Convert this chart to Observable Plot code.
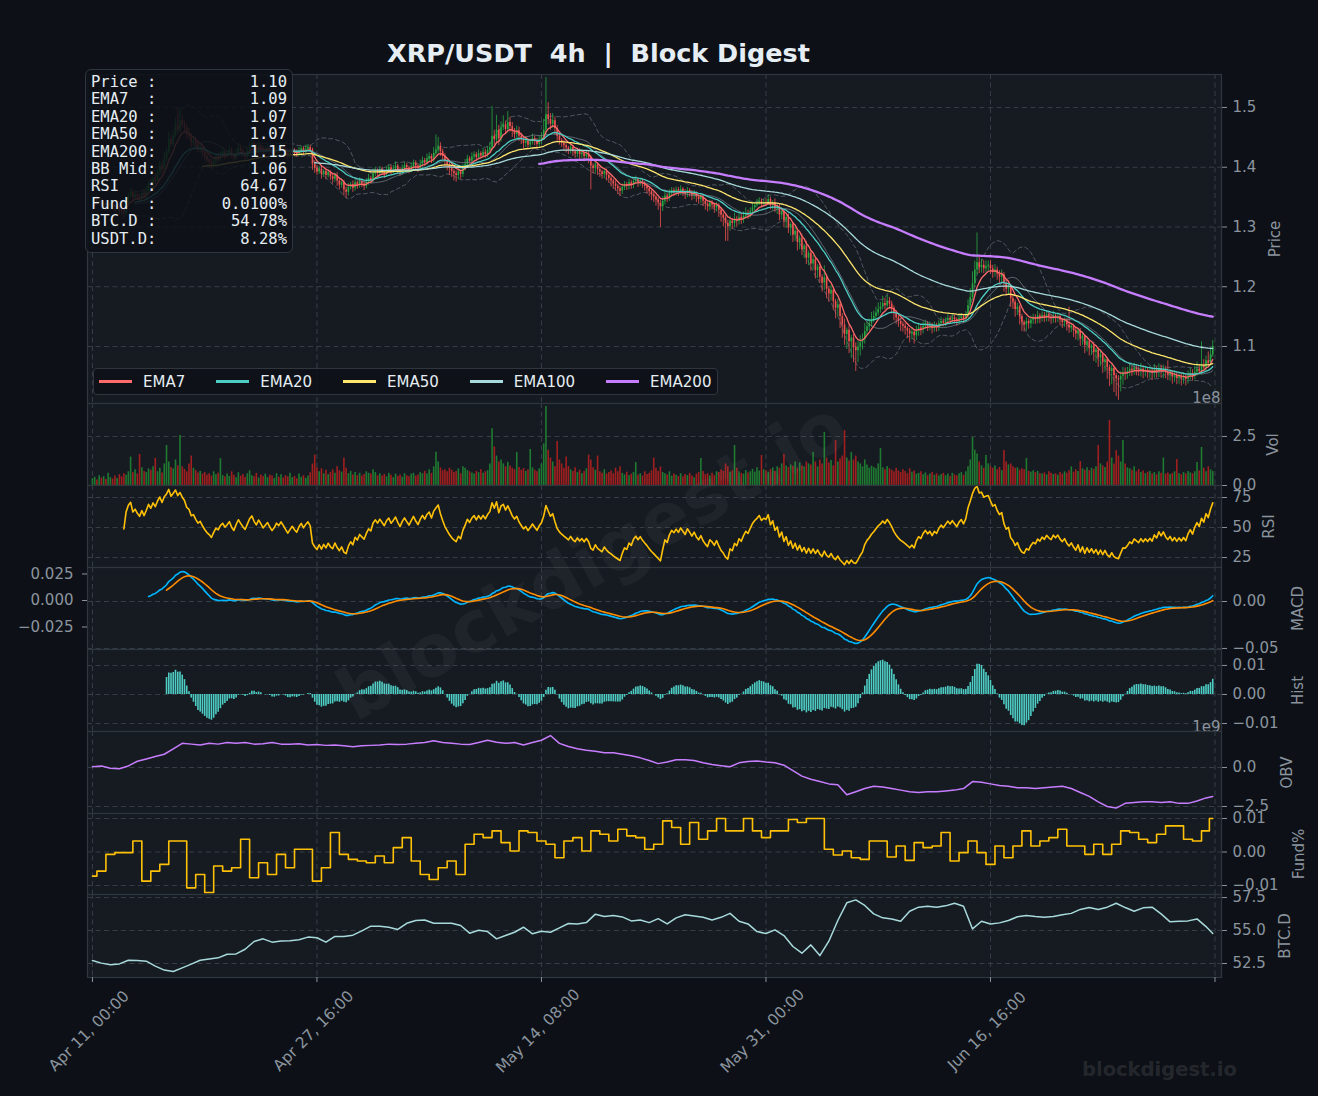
<!DOCTYPE html>
<html><head><meta charset="utf-8">
<script src="https://cdn.jsdelivr.net/npm/d3@7"></script>
<script src="https://cdn.jsdelivr.net/npm/@observablehq/plot@0.6"></script>
<style>
body{margin:0;background:#0d1117;}
#root{position:relative;width:1318px;height:1096px;background:#0d1117;overflow:hidden;font-family:"DejaVu Sans",sans-serif;}
#root svg{overflow:visible;}
.info{position:absolute;left:85px;top:69px;width:208px;height:184px;box-sizing:border-box;border:1.5px solid #30363d;border-radius:6px;background:rgba(13,17,23,0.86);padding:4px 5px 0 5px;font-family:"DejaVu Sans Mono",monospace;font-size:15.5px;line-height:17.4px;color:#e6edf3;}
.info .row{display:flex;justify-content:space-between;white-space:pre;}
.legend{position:absolute;left:93px;top:368px;width:625px;height:27px;box-sizing:border-box;border:1px solid #30363d;border-radius:4px;background:rgba(13,17,23,0.86);display:flex;align-items:center;padding-left:5px;font-size:15px;color:#e6edf3;}
.legend .sw{flex:0 0 33px;width:33px;height:3px;margin-right:11px;}
.legend .lb{flex:0 0 auto;margin-right:31px;white-space:pre;}
.legend .lb:last-child{margin-right:0;}
.title{position:absolute;left:0;top:38px;width:1197px;text-align:center;font-weight:bold;font-size:25.5px;line-height:30px;color:#e6edf3;white-space:pre;}
.wm{position:absolute;left:592px;top:560px;transform:translate(-50%,-50%) rotate(-29.5deg);font-weight:bold;font-size:72px;color:rgba(255,255,255,0.04);white-space:nowrap;pointer-events:none;}
.wm2{position:absolute;left:1082px;top:1058px;font-weight:bold;font-size:19.5px;color:rgba(255,255,255,0.11);white-space:nowrap;}
</style></head><body><div id="root"></div>
<script>
// ---------- data (4h candles, index 0 = Apr 11 00:00) ----------
const xTickIdx = [0, 100, 200, 300, 400, 500];
const xTickLabels = ["Apr 11, 00:00", "Apr 27, 16:00", "May 14, 08:00", "May 31, 00:00", "Jun 16, 16:00", ""];
const openFirst = 1342; // thousandths
const closes = [
1345,1348,1341,1343,1336,1339,1332,1335,1340,1334,1330,1333,1327,1324,1322,1341,1352,1358,1349,1354,
1350,1347,1356,1351,1360,1372,1368,1380,1376,1390,1402,1396,1414,1425,1447,1438,1452,1470,1462,1478,
1471,1466,1455,1452,1441,1444,1436,1429,1433,1425,1418,1412,1408,1402,1410,1417,1414,1421,1425,1419,
1423,1428,1420,1415,1424,1432,1427,1422,1418,1426,1435,1440,1433,1428,1436,1431,1425,1429,1433,1427,
1422,1426,1432,1429,1434,1430,1425,1420,1424,1428,1424,1421,1427,1431,1426,1430,1433,1429,1405,1398,
1392,1397,1388,1393,1386,1391,1384,1380,1386,1377,1370,1374,1362,1358,1366,1371,1365,1374,1369,1376,
1372,1368,1375,1381,1378,1389,1394,1390,1396,1392,1388,1395,1399,1393,1397,1402,1396,1391,1398,1403,
1399,1395,1401,1407,1402,1398,1405,1411,1407,1414,1418,1412,1423,1429,1435,1426,1418,1410,1404,1398,
1393,1389,1386,1392,1388,1398,1405,1414,1410,1417,1421,1416,1423,1419,1425,1421,1428,1433,1452,1446,
1462,1448,1466,1471,1463,1475,1468,1460,1455,1461,1452,1446,1440,1444,1437,1442,1448,1443,1438,1445,
1450,1462,1488,1480,1472,1478,1465,1452,1445,1440,1436,1432,1428,1433,1426,1422,1427,1421,1424,1418,
1422,1416,1402,1398,1404,1396,1392,1388,1393,1386,1381,1377,1372,1368,1364,1360,1366,1371,1368,1374,
1370,1376,1379,1374,1377,1372,1368,1364,1359,1354,1350,1345,1340,1334,1343,1352,1348,1356,1361,1358,
1362,1358,1363,1359,1355,1361,1357,1352,1356,1350,1346,1350,1343,1338,1334,1340,1337,1332,1336,1328,
1320,1315,1306,1301,1310,1306,1313,1309,1316,1312,1318,1323,1320,1326,1332,1336,1339,1343,1338,1341,
1340,1346,1336,1341,1330,1334,1320,1326,1310,1316,1298,1304,1286,1293,1274,1281,1262,1268,1248,1256,
1238,1245,1227,1233,1216,1206,1215,1196,1188,1194,1175,1164,1170,1150,1136,1120,1127,1108,1114,1098,
1093,1099,1106,1112,1125,1133,1138,1145,1150,1156,1162,1166,1172,1168,1176,1171,1164,1155,1148,1142,
1137,1134,1130,1126,1121,1124,1118,1126,1131,1128,1134,1138,1133,1136,1130,1135,1132,1138,1142,1139,
1143,1147,1144,1148,1145,1142,1147,1150,1146,1152,1168,1182,1205,1228,1240,1232,1236,1230,1234,1236,
1230,1224,1228,1221,1216,1220,1205,1196,1199,1180,1174,1162,1166,1150,1140,1136,1142,1138,1144,1148,
1145,1151,1147,1152,1148,1153,1149,1146,1151,1147,1150,1144,1140,1143,1136,1131,1134,1127,1121,1126,
1112,1117,1102,1108,1097,1101,1090,1094,1081,1086,1073,1078,1065,1058,1063,1051,1046,1044,1050,1056,
1055,1058,1062,1059,1064,1061,1058,1062,1057,1060,1056,1059,1055,1061,1057,1063,1058,1062,1056,1052,
1055,1049,1052,1047,1050,1046,1049,1045,1051,1055,1050,1057,1062,1058,1068,1064,1076,1072,1086,1100];
const upperWick = [
4,3,5,2,4,3,6,2,5,3,2,4,3,5,6,8,5,7,4,6,
3,5,4,6,7,5,8,4,9,6,8,5,10,7,12,6,9,12,30,20,
8,6,5,9,4,7,5,6,3,5,4,6,3,5,7,4,6,5,8,3,
5,7,4,3,6,8,5,4,3,7,6,9,4,5,7,3,4,6,5,3,
4,6,5,3,7,4,3,5,6,4,3,5,6,4,3,7,5,4,3,6,
5,4,6,3,5,4,3,6,4,5,3,6,4,5,7,4,6,5,3,6,
4,5,6,7,4,8,6,3,5,4,3,6,5,4,6,7,3,4,6,5,
4,3,6,5,4,3,7,6,4,8,6,4,10,25,15,6,4,5,3,4,
3,4,5,6,3,7,8,6,4,7,5,4,6,3,7,5,6,8,50,10,
25,8,10,15,6,18,9,7,5,8,6,5,4,7,3,5,8,4,5,7,
8,18,62,20,10,12,6,5,4,3,5,4,3,6,4,3,5,4,6,3,
5,4,3,4,6,3,4,3,5,4,3,4,3,5,3,4,6,5,4,6,
4,5,6,3,4,3,4,3,4,3,4,3,4,5,8,7,4,6,5,4,
5,4,6,3,4,5,3,4,5,3,4,5,3,4,3,5,4,3,5,3,
4,3,4,5,8,4,10,5,8,6,7,9,5,6,8,5,7,6,4,5,
6,8,4,3,6,3,4,6,3,4,6,3,4,7,3,4,7,3,8,4,
5,7,3,4,8,4,20,5,4,8,5,4,9,4,5,10,4,8,5,6,
8,10,12,9,14,10,8,12,9,10,11,8,12,9,10,6,5,4,5,4,
5,4,5,3,4,7,4,8,6,5,7,6,4,5,3,6,4,5,7,4,
5,6,4,5,4,3,6,5,4,7,10,15,20,15,50,12,10,8,9,7,
8,6,9,5,6,8,4,5,7,4,5,4,6,3,4,3,6,4,7,6,
5,8,4,6,5,7,4,5,8,4,6,4,3,5,4,30,5,3,4,3,
4,6,3,5,4,3,6,3,4,6,3,4,3,4,6,3,4,5,8,9,
8,7,9,5,8,6,5,10,6,7,5,8,6,9,5,8,6,7,5,20,
6,4,7,5,6,4,7,5,8,9,6,10,12,8,40,10,8,15,12,10];
const lowerWick = [
3,4,5,3,6,4,5,3,4,6,5,3,6,5,8,4,5,3,6,4,
5,4,3,6,4,5,3,6,4,5,3,6,4,5,3,5,4,3,6,4,
5,6,8,5,9,6,7,5,6,8,7,5,9,6,4,5,6,4,5,7,
4,5,6,7,4,5,6,5,7,4,5,3,6,5,4,6,7,4,5,6,
5,4,3,6,4,5,6,7,4,5,6,4,3,5,6,4,3,5,10,8,
6,4,8,5,7,4,6,8,5,9,8,5,10,10,6,4,7,5,6,4,
6,7,4,5,6,4,5,7,4,6,7,4,5,6,4,5,7,6,4,5,
5,6,4,5,6,7,4,5,6,4,5,6,4,5,6,8,7,9,10,12,
10,12,11,7,8,5,4,6,5,4,5,6,4,5,4,6,5,4,6,10,
8,12,6,5,8,6,9,10,8,7,9,8,10,7,8,6,5,7,8,6,
7,5,8,9,10,7,12,10,8,7,9,8,7,6,8,7,6,8,7,9,
8,10,40,9,8,10,9,8,7,9,8,10,9,8,10,9,6,5,7,6,
7,6,5,8,6,7,8,9,8,10,9,10,12,35,8,6,7,5,6,7,
6,7,5,8,9,6,7,8,6,9,8,7,9,10,9,7,8,9,7,12,
12,15,30,25,8,10,7,9,6,8,6,5,7,5,4,5,4,3,6,5,
5,4,7,8,6,9,10,8,11,12,9,13,12,10,14,12,10,15,11,13,
12,10,14,13,10,15,12,16,14,12,15,18,14,20,22,18,25,20,28,25,
35,20,15,12,8,6,7,6,5,6,5,6,5,7,5,8,10,12,11,10,
12,10,11,13,15,10,14,8,9,10,7,6,8,7,9,6,8,7,5,6,
6,5,7,6,7,8,6,5,7,6,5,6,5,6,8,10,9,8,7,8,
9,10,8,10,12,9,14,12,10,15,12,13,10,14,15,12,10,9,8,7,
8,7,9,6,8,7,8,9,7,8,7,9,10,8,10,9,8,12,10,12,
12,10,14,11,13,12,15,18,16,15,18,16,20,25,22,28,30,34,20,15,
12,10,8,9,7,10,8,9,11,8,10,9,12,8,10,9,11,12,10,9,
10,12,9,11,10,12,9,11,8,7,8,6,7,5,6,5,6,4,5,4];
const volumeM = [ // millions
35,42,28,50,38,45,30,62,40,33,48,36,55,44,60,52,70,145,65,80,
58,158,90,72,66,85,78,95,138,70,88,64,110,204,120,92,85,130,100,255,
95,82,70,110,150,88,76,64,72,58,66,52,60,48,70,55,62,137,50,44,
58,46,70,52,40,65,48,56,42,60,75,50,44,62,38,54,46,58,40,52,
48,36,60,42,55,38,50,44,62,40,46,35,58,42,50,36,48,65,110,155,
90,70,85,60,78,55,66,80,62,95,75,68,140,88,60,72,54,66,50,62,
48,56,70,62,58,80,66,50,60,48,56,44,62,52,40,58,46,54,42,60,
50,44,58,62,48,54,66,60,72,58,80,62,95,170,120,90,75,80,70,88,
78,66,72,85,60,95,88,76,70,64,58,72,66,80,62,70,76,110,289,196,
150,120,130,110,95,118,100,88,80,168,92,78,86,72,80,184,90,78,70,85,
110,212,403,180,140,120,95,224,130,110,88,145,96,80,72,90,66,78,60,72,
85,155,130,90,78,150,70,62,80,58,66,74,60,88,70,95,62,54,68,50,
58,66,117,52,60,48,70,56,62,75,140,88,72,95,66,60,54,70,48,58,
52,46,60,44,56,50,62,48,40,58,66,138,72,55,60,48,62,50,70,66,
80,72,110,95,68,75,204,88,70,62,58,76,64,70,82,68,90,74,153,80,
75,68,82,90,72,95,88,110,158,100,92,105,98,120,88,115,100,94,120,110,
105,168,120,95,130,110,270,140,115,128,100,230,120,135,150,280,140,125,168,130,
150,120,110,95,130,105,88,98,92,85,110,188,90,80,96,85,78,70,88,74,
66,80,72,60,85,68,74,58,62,70,55,64,50,58,66,52,60,48,56,62,
50,58,46,62,54,48,60,66,52,70,95,130,245,180,160,120,100,88,153,110,
95,88,100,80,92,76,178,120,105,110,96,88,90,78,85,80,138,72,68,75,
66,72,60,58,64,54,70,62,56,60,52,66,58,70,62,75,95,68,80,72,
122,85,78,90,76,88,82,95,204,110,100,92,120,332,140,110,178,150,120,230,
110,90,85,78,95,70,82,66,74,60,68,72,58,66,54,70,62,140,58,64,
56,62,70,133,60,55,66,58,72,64,60,70,117,75,194,88,70,95,80,72];
// sampled every 4 candles (last sample = final candle)
const obvB = [ // billions
0.05,0.1,-0.05,-0.08,0.1,0.4,0.55,0.7,0.85,1.2,
1.55,1.5,1.45,1.55,1.5,1.6,1.55,1.6,1.5,1.52,
1.6,1.5,1.5,1.52,1.45,1.48,1.42,1.45,1.4,1.33,
1.4,1.42,1.45,1.5,1.47,1.5,1.55,1.6,1.72,1.6,
1.55,1.5,1.48,1.6,1.75,1.62,1.55,1.6,1.45,1.6,
1.75,2.05,1.55,1.35,1.2,1.1,1.05,0.95,0.95,0.85,
0.75,0.62,0.45,0.25,0.35,0.5,0.5,0.45,0.3,0.2,
0.12,0.05,0.3,0.38,0.42,0.35,0.3,0.15,-0.2,-0.55,
-0.75,-0.9,-1.05,-1.1,-1.75,-1.55,-1.35,-1.2,-1.25,-1.35,
-1.45,-1.55,-1.6,-1.55,-1.55,-1.5,-1.45,-1.35,-0.9,-0.95,
-1.05,-1.15,-1.2,-1.3,-1.3,-1.35,-1.3,-1.25,-1.2,-1.35,
-1.6,-1.85,-2.2,-2.5,-2.6,-2.3,-2.25,-2.2,-2.2,-2.25,
-2.2,-2.3,-2.3,-2.15,-1.95,-1.86];
const fundingBp = [ // units of 0.0001 %
-72,-57,-7,-2,-2,33,-87,-57,-37,33,
33,-107,-67,-121,-42,-57,-47,38,-77,-32,
-67,-7,-47,8,8,-87,-47,58,-7,-22,
-27,-32,-12,-32,13,43,-27,-67,-82,-47,
-27,-67,23,53,43,63,28,3,63,58,
33,23,-17,33,43,3,63,53,33,68,
48,43,8,23,93,73,23,88,38,63,
100,63,63,100,63,43,63,63,97,88,
100,100,8,-9,3,-17,-22,33,33,-15,
18,-25,28,13,18,58,-27,-2,33,-2,
-37,18,-17,18,63,18,33,43,68,18,
18,-7,23,-7,23,63,58,38,28,53,
78,78,38,33,63,100];
const btcDom = [
52.73,52.53,52.4,52.47,52.75,52.73,52.68,52.3,52.0,51.9,
52.17,52.45,52.75,52.85,52.93,53.2,53.23,53.58,54.17,54.37,
54.12,54.2,54.22,54.3,54.5,54.45,54.12,54.55,54.55,54.65,
54.97,55.33,55.33,55.25,55.08,55.55,55.76,55.8,55.55,55.55,
55.55,55.38,54.8,55.02,54.92,54.37,54.62,54.87,55.25,54.75,
54.95,54.87,55.2,55.53,55.5,55.6,56.24,56.06,56.14,56.03,
55.73,55.8,55.6,55.9,55.5,55.96,56.2,56.1,56.0,55.8,
56.0,56.3,55.7,55.5,54.92,54.77,55.05,54.62,53.79,53.28,
53.91,53.1,54.19,55.76,57.1,57.32,56.9,56.26,55.96,55.88,
55.7,56.46,56.77,56.84,56.77,56.87,57.07,56.84,55.12,55.7,
55.5,55.58,55.76,56.04,56.14,56.06,56.0,56.06,56.2,56.3,
56.6,56.74,56.6,56.77,57.07,56.74,56.46,56.72,56.77,56.26,
55.66,55.7,55.73,55.88,55.3,54.78];
const infoLabels = ["Price :", "EMA7  :", "EMA20 :", "EMA50 :", "EMA200:", "BB Mid:", "RSI   :", "Fund  :", "BTC.D :", "USDT.D:"];
const infoValues = ["1.10", "1.09", "1.07", "1.07", "1.15", "1.06", "64.67", "0.0100%", "54.78%", "8.28%"];
const emaNames = ["EMA7", "EMA20", "EMA50", "EMA100", "EMA200"];
const emaSpans = [7, 20, 50, 100, 200];
const emaColors = ["#ff6b6b", "#4ecdc4", "#ffe66d", "#a8dadc", "#c77dff"];

// ---------- derived ----------
const N = closes.length;
const C = closes.map(v => v / 1000);
const O = C.map((v, i) => i === 0 ? openFirst / 1000 : C[i - 1]);
const candles = C.map((c, i) => {
  const o = O[i];
  return {i, o, c, h: Math.max(o, c) + upperWick[i] / 1000, l: Math.min(o, c) - lowerWick[i] / 1000, up: c >= o, v: volumeM[i]};
});
function ema(arr, n) { const a = 2 / (n + 1); let e; return arr.map((v, i) => (e = i === 0 ? v : a * v + (1 - a) * e)); }
const emaSeries = emaSpans.map(n => ema(C, n).map((v, i) => ({i, v})).filter(d => d.i >= n - 1));
const bb = [];
for (let i = 19; i < N; i++) {
  const w = C.slice(i - 19, i + 1); const m = d3.mean(w); const s = d3.deviation(w);
  bb.push({i, m, u: m + 2 * s, l: m - 2 * s});
}
const rsi = []; let ag = 0, al = 0;
for (let i = 1; i < N; i++) {
  const d = C[i] - C[i - 1]; const g = Math.max(d, 0), l = Math.max(-d, 0);
  if (i === 1) { ag = g; al = l; } else { ag = (ag * 13 + g) / 14; al = (al * 13 + l) / 14; }
  if (i >= 14) rsi.push({i, v: al === 0 ? 100 : 100 - 100 / (1 + ag / al)});
}
const e12 = ema(C, 12), e26 = ema(C, 26);
const macdAll = C.map((_, i) => e12[i] - e26[i]);
const macd = macdAll.map((v, i) => ({i, v})).filter(d => d.i >= 25);
const sigVals = ema(macd.map(d => d.v), 9);
const signal = macd.map((d, k) => ({i: d.i, v: sigVals[k], m: d.v})).filter(d => d.i >= 33);
const hist = signal.map(d => ({i: d.i, v: d.m - d.v}));
const sIdx = k => Math.min(4 * k, N - 1);
const obv = obvB.map((v, k) => ({i: sIdx(k), v}));
const fund = fundingBp.map((v, k) => ({i: sIdx(k), v: v / 10000}));
const btc = btcDom.map((v, k) => ({i: sIdx(k), v}));

// ---------- drawing ----------
const root = document.getElementById("root");
const PANEL = "#161b22", GRID = "#383e47", TXT = "#8b949e", EDGE = "#30363d";
const UP = "#26a641", DN = "#f0524f", VUP = "#1f7a31", VDN = "#a11f1f";
const fmt = (d, p) => (Math.abs(d) < 1e-12 ? 0 : d).toFixed(p).replace("-", "\u2212");
const xDomain = [-2.2, 502.9];

function addPanel(top, h, yDomain, marks, mb = 0) {
  const svg = Plot.plot({
    width: 1318, height: h + mb, marginLeft: 87, marginRight: 97, marginTop: 0, marginBottom: mb,
    x: {domain: xDomain, axis: null}, y: {domain: yDomain, axis: null}, color: {type: "identity"},
    style: {background: "transparent", overflow: "visible", fontFamily: "'DejaVu Sans', sans-serif", fontSize: "15px", color: TXT},
    marks
  });
  svg.style.position = "absolute"; svg.style.left = "0px"; svg.style.top = top + "px";
  root.appendChild(svg);
}
const bg = (yt) => [
  Plot.frame({fill: PANEL, stroke: "none"}),
  Plot.ruleX(xTickIdx, {stroke: GRID, strokeDasharray: "5,3.5", strokeWidth: 1}),
  Plot.ruleY(yt, {stroke: GRID, strokeDasharray: "5,3.5", strokeWidth: 1})
];
const axR = (yt, f) => Plot.axisY({ticks: yt, anchor: "right", tickSize: 5, tickPadding: 6, tickFormat: f, color: TXT, label: null});
const ylab = (t, dx) => Plot.text([t], {frameAnchor: "right", dx, rotate: -90, textAnchor: "middle", fill: TXT, fontSize: 15});
const border = () => Plot.frame({stroke: EDGE, strokeWidth: 1.2});

// Price
const pT = [1.1, 1.2, 1.3, 1.4, 1.5];
addPanel(74, 329, [1.0046, 1.5552], [
  ...bg(pT),
  Plot.line(bb, {x: "i", y: "u", stroke: "#8b949e", strokeOpacity: 0.55, strokeWidth: 0.9, strokeDasharray: "4,3"}),
  Plot.line(bb, {x: "i", y: "l", stroke: "#8b949e", strokeOpacity: 0.55, strokeWidth: 0.9, strokeDasharray: "4,3"}),
  Plot.ruleX(candles, {x: "i", y1: "l", y2: "h", stroke: d => d.up ? UP : DN, strokeWidth: 0.8}),
  Plot.ruleX(candles, {x: "i", y1: "o", y2: "c", stroke: d => d.up ? UP : DN, strokeWidth: 1.6}),
  Plot.line(bb, {x: "i", y: "m", stroke: "#8b949e", strokeOpacity: 0.6, strokeWidth: 1}),
  ...emaSeries.map((s, k) => Plot.line(s, {x: "i", y: "v", stroke: emaColors[k], strokeWidth: k === 4 ? 2.3 : 1.3})),
  axR(pT, d => d.toFixed(1)),
  ylab("Price", 54),
  border()
]);
// Volume
const vT = [0, 250];
addPanel(403, 82, [0, 418], [
  ...bg(vT),
  Plot.ruleX(candles, {x: "i", y1: 0, y2: "v", stroke: d => d.up ? VUP : VDN, strokeWidth: 1.6}),
  axR(vT, d => (d / 100).toFixed(1)),
  Plot.text(["1e8"], {frameAnchor: "top-right", dy: -11, dx: -1, textAnchor: "end", fill: TXT, fontSize: 15}),
  ylab("Vol", 52),
  border()
]);
// RSI
const rT = [25, 50, 75];
addPanel(485, 82, [16.7, 85], [
  ...bg(rT),
  Plot.line(rsi, {x: "i", y: "v", stroke: "#ffc107", strokeWidth: 1.6, clip: true}),
  axR(rT, d => d.toFixed(0)),
  ylab("RSI", 48),
  border()
]);
// MACD
const mT = [0, -0.05];
addPanel(567, 82, [-0.0511, 0.0362], [
  ...bg(mT),
  Plot.line(macd, {x: "i", y: "v", stroke: "#00b7ff", strokeWidth: 1.6}),
  Plot.line(signal, {x: "i", y: "v", stroke: "#ff8c00", strokeWidth: 1.6}),
  axR(mT, d => fmt(d, 2)),
  ylab("MACD", 77),
  border()
]);
addPanel(567, 82, [-0.0462, 0.0311], [
  Plot.axisY({ticks: [0.025, 0, -0.025], anchor: "left", tickSize: 5, tickPadding: 9, tickFormat: d => fmt(d, 3), color: TXT, label: null})
]);
// Hist
const hT = [-0.01, 0, 0.01];
addPanel(649, 82, [-0.01276, 0.0155], [
  ...bg(hT),
  Plot.ruleX(hist, {x: "i", y1: 0, y2: "v", stroke: "#4ecdc4", strokeWidth: 1.6}),
  axR(hT, d => fmt(d, 2)),
  ylab("Hist", 77),
  border()
]);
// OBV
const oT = [0, -2.5];
addPanel(731, 82, [-2.95, 2.31], [
  ...bg(oT),
  Plot.line(obv, {x: "i", y: "v", stroke: "#c77dff", strokeWidth: 1.5}),
  axR(oT, d => fmt(d, 1)),
  Plot.text(["1e9"], {frameAnchor: "top-right", dy: -10, dx: -1, textAnchor: "end", fill: TXT, fontSize: 15}),
  ylab("OBV", 66),
  border()
]);
// Funding
const fT = [-0.01, 0, 0.01];
addPanel(813, 81, [-0.01269, 0.01149], [
  ...bg(fT),
  Plot.line(fund, {x: "i", y: "v", stroke: "#ffc107", strokeWidth: 1.6, curve: "step"}),
  axR(fT, d => fmt(d, 2)),
  ylab("Fund%", 78),
  border()
]);
// BTC dominance + x axis
const bT = [52.5, 55, 57.5];
const xLab = xTickIdx.map((i, k) => ({i, t: xTickLabels[k]}));
addPanel(894, 83, [51.44, 57.73], [
  ...bg(bT),
  Plot.line(btc, {x: "i", y: "v", stroke: "#a8dadc", strokeWidth: 1.5}),
  axR(bT, d => d.toFixed(1)),
  ylab("BTC.D", 64),
  border(),
  Plot.axisX({ticks: xTickIdx, tickFormat: () => "", tickSize: 5, anchor: "bottom", color: TXT, label: null}),
  Plot.text(xLab, {x: "i", text: "t", frameAnchor: "bottom", dy: 57, rotate: -45, textAnchor: "middle", fill: TXT, fontSize: 15.5})
], 119);

// ---------- overlays ----------
const title = document.createElement("div");
title.className = "title"; title.textContent = "XRP/USDT  4h  |  Block Digest";
root.appendChild(title);

const leg = document.createElement("div"); leg.className = "legend";
emaNames.forEach((n, k) => {
  const sw = document.createElement("span"); sw.className = "sw"; sw.style.background = emaColors[k];
  const lb = document.createElement("span"); lb.className = "lb"; lb.textContent = n;
  leg.appendChild(sw); leg.appendChild(lb);
});
root.appendChild(leg);

const info = document.createElement("div"); info.className = "info";
infoLabels.forEach((l, k) => {
  const r = document.createElement("div"); r.className = "row";
  const a = document.createElement("span"); a.textContent = l;
  const b = document.createElement("span"); b.textContent = infoValues[k];
  r.appendChild(a); r.appendChild(b); info.appendChild(r);
});
root.appendChild(info);

const wm = document.createElement("div"); wm.className = "wm"; wm.textContent = "blockdigest.io"; root.appendChild(wm);
const wm2 = document.createElement("div"); wm2.className = "wm2"; wm2.textContent = "blockdigest.io"; root.appendChild(wm2);
</script>
</body></html>
